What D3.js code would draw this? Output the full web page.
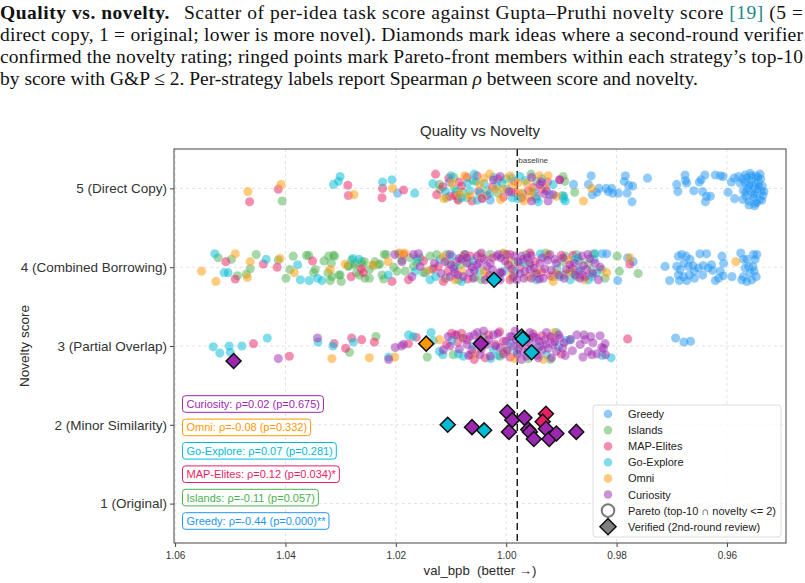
<!DOCTYPE html>
<head>
  <meta charset="utf-8">
  <script src="https://d3js.org/d3.v7.min.js"></script>
  <style>
    body { margin:0; background:#fff; }
    svg text { font-family: "Liberation Sans", Arial, sans-serif; }
    .cap { font-family: "Liberation Serif", "Times New Roman", serif !important; font-size:19.5px; fill:#111; }
  </style>
</head>
<body>
<script>
// ---- data (val_bpb, novelty incl. vertical jitter) ----
var strategies = ["Greedy", "Islands", "MAP-Elites", "Go-Explore", "Omni", "Curiosity"];
var colors = ["#2196f3", "#4caf50", "#e91e63", "#00bcd4", "#ff9800", "#9c27b0"];

var greedyPts = [
  [1.0197,4.94],[1.0103,5.08],[1.0029,4.85],[0.9878,5.05],[0.9846,5.16],[0.9851,5.05],[0.9844,4.92],[0.9832,5.00],
  [0.9836,4.95],[0.9819,5.00],[0.9815,4.96],[0.9809,5.00],[0.9807,4.94],[0.9797,4.94],[0.9784,5.16],[0.9786,5.09],
  [0.9778,5.04],[0.9771,5.03],[0.9781,4.94],[0.9772,4.83],[0.9744,5.13],[0.9691,5.05],[0.9689,4.96],[0.9676,5.17],
  [0.9675,5.10],[0.9673,5.07],[0.9660,4.97],[0.9650,5.08],[0.9647,5.11],[0.9640,5.17],[0.9644,4.96],[0.9637,4.90],
  [0.9639,4.83],[0.9630,4.90],[0.9621,5.17],[0.9612,5.16],[0.9607,5.15],[0.9598,4.95],[0.9592,5.08],[0.9587,5.13],
  [0.9586,4.87],[0.9579,5.15],[0.9576,5.07],
  [0.9572,5.12],[0.9567,5.17],[0.9562,5.05],[0.9558,5.19],[0.9554,5.13],[0.9551,5.02],[0.9547,5.16],[0.9543,5.08],
  [0.9540,5.18],[0.9536,5.03],[0.9570,4.97],[0.9565,4.90],[0.9560,4.84],[0.9556,4.95],[0.9552,4.88],[0.9549,4.81],
  [0.9545,4.93],[0.9541,4.86],[0.9538,4.97],[0.9535,4.91],[0.9568,5.08],[0.9563,5.00],[0.9557,5.10],[0.9553,4.99],
  [0.9548,5.06],[0.9544,4.99],[0.9539,5.12],[0.9537,4.85],[0.9560,4.79],[0.9550,4.78],[0.9571,4.86],[0.9546,4.82],
  [0.9542,5.03],[0.9555,5.16],[0.9564,5.14],[0.9533,4.96],[0.9566,4.95],[0.9559,5.04],[0.9551,4.92],[0.9544,5.14],
  [0.9841,4.10],[0.9826,4.17],[0.9818,4.17],[0.9798,3.83],[0.9770,4.07],[0.9780,4.12],[0.9712,4.01],[0.9704,3.83],
  [0.9688,4.14],[0.9682,4.16],[0.9674,4.14],[0.9667,4.10],[0.9691,4.01],[0.9685,3.97],[0.9678,4.05],[0.9670,4.01],
  [0.9662,4.02],[0.9688,3.90],[0.9679,3.88],[0.9668,3.90],[0.9659,3.95],[0.9686,3.83],[0.9673,3.83],[0.9659,3.86],
  [0.9649,4.17],[0.9637,4.17],[0.9652,3.99],[0.9643,4.02],[0.9644,3.90],[0.9634,3.99],[0.9628,4.03],[0.9626,3.96],
  [0.9609,4.14],[0.9606,4.05],[0.9612,3.95],[0.9615,3.86],[0.9621,3.83],[0.9607,3.89],[0.9591,3.88],
  [0.9575,4.18],[0.9570,4.10],[0.9564,4.10],[0.9567,3.99],[0.9561,4.01],[0.9558,3.93],[0.9570,3.88],[0.9573,3.84],
  [0.9552,4.16],[0.9546,4.16],[0.9549,4.10],[0.9553,4.01],[0.9551,3.95],[0.9547,3.88],[0.9555,3.84],[0.9564,3.82],
  [0.9693,3.10],[0.9678,3.05],[0.9666,3.06]
];

var islandsPts = [
  [1.0406,4.84],[1.0121,5.05],[1.0120,4.99],[0.9894,5.09],[0.9876,4.95],[1.0090,4.96],[1.0088,4.87],[1.0071,4.88],
  [1.0079,4.95],[0.9897,5.15],[0.9898,4.91],[1.0060,5.10],[1.0035,4.97],[1.0000,5.12],[0.9970,4.93],[0.9945,5.09],
  [1.0095,5.14],[1.0108,4.88],[1.0015,4.94],[0.9955,5.18],
  [1.0522,4.12],[1.0498,4.10],[1.0487,3.89],[1.0471,3.91],[1.0464,3.98],[1.0453,4.16],[1.0413,4.09],[1.0399,3.86],
  [1.0392,3.97],[1.0386,4.14],[1.0362,4.15],[1.0358,4.15],[1.0349,3.93],[1.0346,3.97],[1.0330,4.08],[1.0323,3.93],
  [1.0319,3.83],[1.0317,4.05],[1.0322,4.14],[1.0311,4.14],[1.0303,3.90],[1.0299,3.82],[1.0286,4.02],[1.0280,4.09],
  [1.0274,4.05],[1.0261,4.03],[1.0257,4.07],[1.0248,3.86],[1.0241,4.02],[1.0266,3.90],[1.0232,4.03],
  [1.0313,4.15],[1.0316,3.88],[1.0301,3.90],[1.0286,4.01],[1.0276,4.03],[1.0271,3.93],[1.0262,4.07],[1.0256,3.86],
  [1.0248,3.97],[1.0238,4.07],[1.0229,4.04],[1.0221,4.16],[1.0218,4.16],[1.0225,3.90],[1.0222,3.85],[1.0204,4.00],
  [1.0198,3.95],[1.0195,4.17],[1.0189,4.09],[1.0183,3.95],[1.0174,4.12],[1.0168,4.01],[1.0162,4.06],[1.0156,4.12],
  [1.0150,3.93],[1.0138,4.14],[1.0126,4.16],[1.0108,4.16],[1.0105,4.05],
  [1.0068,4.05],[1.0029,4.16],[1.0005,4.17],[0.9963,4.16],[0.9928,4.18],[0.9899,4.07],[0.9893,4.14],[0.9873,4.16],
  [0.9842,4.17],[0.9884,3.95],[0.9872,3.88],[0.9845,3.95],[0.9851,4.05],[0.9795,3.95],[0.9761,3.92],[0.9799,4.14],
  [0.9878,3.93],[0.9821,3.86],[0.9827,3.97],[1.0084,4.03],[1.0057,3.87],[0.9984,4.07],[0.9948,3.90],[1.0087,3.84],
  [1.0135,3.97],[1.0110,3.86],[1.0075,4.16],[1.0045,3.84],[0.9988,3.86],[0.9958,4.03],[0.9915,3.88],[0.9868,4.08],
  [1.0284,2.92],[1.0236,3.12],[1.0143,2.86],[1.0096,2.89],[1.0011,2.87],[0.9920,2.83],[0.9999,2.93],[1.0042,3.12],
  [0.9960,2.84]
];

var mapElitesPts = [
  [1.0465,4.83],[1.0413,4.99],[1.0287,5.04],[1.0286,4.91],[1.0224,5.00],[1.0225,4.88],[1.0186,4.98],[1.0128,5.18],
  [1.0126,4.92],[1.0104,5.13],[1.0102,4.90],[1.0085,5.08],[1.0087,4.85],[1.0093,4.91],[1.0053,5.16],[1.0035,4.91],
  [1.0005,4.89],[0.9990,4.95],[0.9972,4.88],[1.0081,5.03],[1.0071,5.14],[0.9951,5.01],[0.9936,4.99],[0.9984,4.95],
  [0.9925,5.08],[0.9903,5.11],[1.0015,5.12],[0.9960,4.97],[1.0050,4.96],[0.9985,5.09],[1.0115,5.02],[1.0062,4.84],
  [1.0025,5.02],[0.9945,4.90],
  [1.0508,4.07],[1.0491,3.85],[1.0440,4.04],[1.0415,4.00],[1.0351,4.08],[1.0281,3.88],[1.0263,3.98],[1.0259,3.93],
  [1.0207,3.82],[1.0186,4.16],[1.0177,3.84],[1.0132,3.98],[1.0123,4.01],[1.0114,3.82],[1.0065,4.14],[1.0044,4.12],
  [1.0011,3.93],[0.9993,4.16],[0.9957,4.18],[0.9948,4.07],[0.9920,3.89],[0.9776,4.04],[0.9879,4.15],[1.0090,4.07],
  [0.9993,3.84],[0.9881,3.99],[1.0150,4.08],[1.0105,3.95],[1.0070,3.85],[1.0025,4.12],[0.9975,4.00],[0.9935,3.94],
  [0.9900,4.15],[0.9862,3.90],
  [1.0458,3.03],[1.0393,2.87],[1.0312,3.03],[1.0291,2.97],[1.0280,3.10],[1.0262,3.08],[1.0239,3.05],[1.0177,3.03],
  [1.0163,3.11],[1.0099,3.16],[1.0093,3.14],[1.0081,3.16],[1.0071,3.08],[1.0064,2.89],[1.0032,3.14],[1.0020,3.02],
  [1.0005,3.06],[0.9993,2.86],[1.0058,2.83],[1.0038,2.85],[0.9951,3.15],[0.9918,3.10],[1.0108,3.02],[0.9780,3.09],
  [1.0088,3.05],[1.0047,3.07],[1.0012,3.18],[0.9978,2.97],[0.9935,3.13],[0.9900,2.90]
];

var goExplorePts = [
  [1.0313,5.05],[1.0304,5.09],[1.0301,5.15],[1.0224,5.08],[1.0207,5.11],[1.0166,4.94],[1.0133,5.06],[1.0058,5.18],
  [1.0055,5.09],[1.0066,4.97],[1.0048,4.95],[1.0023,5.14],[1.0017,5.03],[1.0008,5.07],[0.9999,4.99],[0.9989,4.88],
  [0.9979,4.87],[1.0081,4.88],[1.0093,4.99],[1.0053,4.85],[0.9945,4.87],[0.9921,4.92],[0.9896,4.87],[0.9915,5.05],
  [0.9896,4.90],[0.9893,4.84],[0.9942,4.83],[1.0030,4.93],[0.9990,5.13],[0.9965,5.10],[1.0070,5.07],[1.0110,4.96],
  [0.9950,4.95],[1.0100,5.16],[1.0040,5.06],[0.9975,5.15],[0.9935,5.12],
  [1.0528,4.17],[1.0511,3.93],[1.0504,3.93],[1.0435,4.10],[1.0378,4.03],[1.0373,3.84],[1.0357,3.83],[1.0342,3.86],
  [1.0334,3.83],[1.0278,4.11],[1.0267,4.10],[1.0214,3.90],[1.0165,3.95],[1.0147,3.93],[1.0138,3.84],[1.0161,4.10],
  [1.0120,4.10],[1.0081,3.82],[1.0093,4.01],[1.0005,3.95],[1.0078,4.12],[1.0048,3.95],[0.9984,3.95],[0.9945,3.84],
  [0.9903,3.88],[0.9884,3.84],[0.9851,3.84],[0.9836,3.93],[0.9876,4.10],[0.9927,4.14],[0.9839,4.17],[0.9866,3.97],
  [0.9896,3.90],[1.0128,3.88],[1.0098,4.14],[1.0060,4.08],[1.0015,3.88],[0.9970,4.06],[0.9938,4.17],[0.9908,3.98],
  [0.9870,4.12],[0.9845,3.88],
  [1.0531,2.99],[1.0519,2.91],[1.0502,3.00],[1.0500,2.92],[1.0479,3.00],[1.0433,3.10],[1.0341,3.05],[1.0314,3.00],
  [1.0277,3.05],[1.0177,3.14],[1.0169,3.12],[1.0213,2.86],[1.0136,3.17],[1.0132,3.07],[1.0121,2.93],[1.0115,2.89],
  [1.0087,2.90],[1.0078,2.87],[1.0023,2.95],[1.0014,2.88],[0.9981,2.93],[0.9891,3.07],[0.9927,2.89],[0.9909,3.17],
  [0.9884,3.08],[0.9826,2.88],[0.9810,2.85],[1.0098,3.07],[1.0060,3.00],[1.0028,2.84],[0.9992,3.03],[0.9942,2.98],
  [0.9905,2.99]
];

var omniPts = [
  [1.0468,4.96],[1.0408,5.05],[1.0276,4.92],[1.0206,5.00],[1.0113,4.87],[1.0075,5.16],[1.0044,4.88],[1.0020,4.99],
  [0.9993,5.16],[0.9990,5.03],[1.0005,4.99],[0.9963,5.07],[0.9954,4.97],[0.9957,4.89],[0.9979,5.07],[1.0048,5.05],
  [1.0066,4.91],[0.9924,5.16],[0.9930,5.01],[0.9909,4.90],[0.9860,4.84],[0.9845,5.00],[1.0040,5.13],[1.0010,4.86],
  [0.9975,4.94],[1.0085,4.93],[1.0098,5.06],[1.0030,5.18],[0.9968,4.84],[0.9940,5.16],
  [1.0552,3.95],[1.0526,3.82],[1.0491,4.17],[1.0464,4.07],[1.0469,3.87],[1.0410,4.11],[1.0384,3.93],[1.0319,3.97],
  [1.0292,4.04],[1.0241,4.03],[1.0214,4.07],[1.0193,4.18],[1.0184,4.18],[1.0144,3.95],[1.0093,3.84],[1.0078,4.14],
  [1.0048,4.16],[1.0035,3.90],[1.0005,4.18],[0.9990,3.90],[0.9993,4.01],[0.9943,3.95],[0.9915,3.82],[0.9910,3.93],
  [0.9818,3.93],[0.9776,4.12],[0.9584,4.07],[0.9891,3.92],[1.0115,4.13],[1.0080,3.95],[1.0040,3.95],[0.9998,4.10],
  [0.9960,3.88],[0.9925,4.16],[0.9888,4.09],[0.9858,3.84],
  [1.0316,2.84],[1.0248,2.85],[1.0202,2.86],[1.0121,3.08],[1.0005,2.93],[0.9912,3.17],[0.9933,2.83],[1.0057,2.90],
  [1.0082,3.11],[0.9985,2.84]
];

var curiosityPts = [
  [1.0044,4.87],[1.0023,5.11],[1.0011,5.15],[0.9954,5.14],[0.9939,5.05],[0.9927,4.97],[0.9954,4.84],[0.9924,4.84],
  [0.9903,5.11],[0.9936,5.08],[0.9930,4.93],[0.9995,4.96],[0.9915,4.92],
  [1.0202,4.16],[1.0189,4.07],[1.0159,4.17],[1.0111,4.07],[1.0102,4.16],[1.0093,3.93],[1.0071,4.05],[1.0075,4.16],
  [1.0066,3.93],[1.0060,3.86],[1.0053,4.03],[1.0035,4.01],[1.0014,4.16],[1.0011,3.84],[0.9996,4.03],[0.9987,3.88],
  [0.9969,4.10],[0.9957,3.97],[1.0081,4.10],[1.0053,4.14],[1.0102,3.88],[1.0168,4.16],[1.0156,4.01],[1.0171,3.88],
  [1.0050,4.05],[1.0029,4.05],[1.0017,4.14],[1.0011,3.93],[0.9999,4.16],[0.9972,4.14],[0.9957,4.05],[0.9966,3.95],
  [0.9939,4.05],[0.9921,4.16],[0.9909,4.05],[0.9933,3.86],[0.9891,3.97],[0.9876,4.05],[0.9863,4.14],[0.9854,3.97],
  [0.9857,3.88],[0.9839,4.05],[0.9833,3.84],[0.9954,3.86],[0.9981,3.84],[1.0038,3.84],[1.0078,3.88],[0.9866,3.86],
  [1.0040,4.10],[1.0025,3.97],[1.0002,4.08],[0.9990,3.98],[0.9975,3.92],[0.9962,4.12],[0.9950,3.99],[0.9935,4.12],
  [0.9918,3.96],[0.9897,4.12],[0.9885,4.03],[0.9868,3.95],[0.9848,4.11],[0.9860,4.02],[1.0062,4.00],[1.0085,4.11],
  [1.0095,3.98],[1.0030,3.90],[1.0008,3.93],[0.9978,4.07],[0.9945,3.92],[0.9925,4.09],[0.9905,3.90],
  [1.0130,4.05],[1.0118,3.92],[1.0100,4.03],[1.0088,3.90],[1.0072,4.12],[1.0058,3.96],[1.0045,4.18],[1.0020,3.86],
  [1.0010,4.12],[0.9985,4.14],[0.9968,3.86],[0.9955,4.15],[0.9940,3.85],[0.9930,3.98],[0.9912,4.10],[0.9895,3.86],
  [0.9875,3.90],[0.9852,4.16],[0.9843,3.92],[0.9830,4.00],
  [1.0413,2.84],[1.0342,3.10],[1.0201,2.98],[1.0190,3.00],[1.0186,3.02],[1.0213,2.83],[1.0090,3.14],[1.0071,3.02],
  [1.0058,3.14],[1.0062,2.95],[1.0035,3.02],[1.0041,3.19],[1.0023,3.14],[1.0011,2.98],[1.0029,2.87],[1.0048,2.89],
  [0.9993,3.12],[0.9987,3.00],[0.9957,3.17],[0.9945,3.10],[0.9939,3.00],[0.9930,3.08],[0.9924,2.97],[0.9915,3.02],
  [0.9909,2.93],[0.9948,2.93],[0.9942,2.85],[0.9963,2.87],[0.9954,3.02],[0.9927,3.17],[0.9918,2.85],[0.9975,3.02],
  [0.9969,2.93],[1.0102,3.00],[1.0114,2.95],[1.0078,3.10],[1.0050,3.06],[0.9984,3.19],[0.9972,2.83],[0.9903,3.10],
  [0.9893,2.88],[0.9884,3.08],[0.9872,3.14],[0.9859,3.14],[0.9857,3.08],[0.9847,3.12],[0.9843,3.04],[0.9830,3.13],
  [0.9827,2.98],[0.9851,2.93],[0.9861,2.86],[0.9845,2.89],[0.9836,2.90],[0.9824,2.97],[0.9821,3.03],[0.9820,2.89],
  [1.0000,3.06],[0.9990,3.12],[0.9965,3.05],[0.9950,3.12],[0.9935,2.95],[0.9912,3.05],[0.9898,2.97],[1.0019,3.00],
  [1.0005,2.90],[0.9980,2.90],[1.0066,3.12],[1.0045,2.96],[0.9960,2.96],[0.9940,3.06],[0.9920,3.12],
  [1.0105,3.12],[1.0085,2.96],[1.0068,2.88],[1.0052,3.17],[1.0032,3.08],[1.0015,3.16],[0.9998,2.95],[0.9982,3.08],
  [0.9958,3.10],[0.9944,2.88],[0.9928,3.02],[0.9905,3.14],[0.9895,3.04],[0.9880,2.94],[0.9866,3.02]
];

// verified (2nd-round review): val_bpb, novelty, strategy index
var verifiedPts = [
  [1.0022,3.84,3],[1.0145,3.03,4],[1.0046,3.03,5],[0.9972,3.12,3],[0.9970,3.09,3],[0.9954,2.92,3],[1.0494,2.81,5],
  [1.0106,2.00,3],[1.0062,1.97,5],[1.0040,1.93,3],[0.9998,2.16,5],[0.9989,2.06,5],[0.9967,2.09,5],[0.9995,1.91,5],
  [0.9960,1.94,5],[0.9957,1.91,5],[0.9950,1.82,5],[0.9928,2.14,2],[0.9934,2.04,2],[0.9928,1.95,5],[0.9922,1.82,5],
  [0.9909,1.89,5],[0.9873,1.91,5]
];

// Spearman labels (top to bottom)
var rhoNames = ["Curiosity", "Omni", "Go-Explore", "MAP-Elites", "Islands", "Greedy"];
var rhoVals = [0.02, -0.08, 0.07, 0.12, -0.11, -0.44];
var rhoP = [0.675, 0.332, 0.281, 0.034, 0.057, 0.000];

var noveltyTicks = [1, 2, 3, 4, 5];
var noveltyLabels = ["1 (Original)", "2 (Minor Similarity)", "3 (Partial Overlap)", "4 (Combined Borrowing)", "5 (Direct Copy)"];
var bpbTicks = [1.06, 1.04, 1.02, 1.00, 0.98, 0.96];
var baselineBpb = 0.998;

// ---- layout ----
var width = 805, height = 583;
var pLeft = 174, pRight = 786, pTop = 149, pBottom = 543;

var svg = d3.select("body").append("svg")
  .attr("width", width)
  .attr("height", height);

// caption
var cap = svg.append("g");
var l1 = cap.append("text").attr("class", "cap").attr("x", 0).attr("y", 19)
  .attr("textLength", 803).attr("lengthAdjust", "spacing");
l1.append("tspan").attr("font-weight", "bold").text("Quality vs. novelty.");
l1.append("tspan").attr("dx", 14).text("Scatter of per-idea task score against Gupta\u2013Pruthi novelty score ");
l1.append("tspan").attr("fill", "#1a8a8a").text("[19]");
l1.append("tspan").text(" (5 =");
cap.append("text").attr("class", "cap").attr("x", 0).attr("y", 41)
  .attr("textLength", 803).attr("lengthAdjust", "spacing")
  .text("direct copy, 1 = original; lower is more novel). Diamonds mark ideas where a second-round verifier");
cap.append("text").attr("class", "cap").attr("x", 0).attr("y", 63)
  .attr("textLength", 803).attr("lengthAdjust", "spacing")
  .text("confirmed the novelty rating; ringed points mark Pareto-front members within each strategy\u2019s top-10");
var l4 = cap.append("text").attr("class", "cap").attr("x", 0).attr("y", 85);
l4.append("tspan").text("by score with G&P \u2264 2. Per-strategy labels report Spearman ");
l4.append("tspan").attr("font-style", "italic").text("\u03c1");
l4.append("tspan").text(" between score and novelty.");

var x = d3.scaleLinear().domain([1.0602, 0.9493]).range([pLeft, pRight]);
var y = d3.scaleLinear().domain([0.5, 5.5]).range([pBottom, pTop]);

// grid
svg.append("g").selectAll("line").data(bpbTicks).enter().append("line")
  .attr("x1", function(d) { return x(d); }).attr("x2", function(d) { return x(d); })
  .attr("y1", pTop).attr("y2", pBottom)
  .attr("stroke", "#d9d9d9").attr("stroke-width", 0.8).attr("stroke-dasharray", "3,3");
svg.append("g").selectAll("line").data(noveltyTicks).enter().append("line")
  .attr("y1", function(d) { return y(d); }).attr("y2", function(d) { return y(d); })
  .attr("x1", pLeft).attr("x2", pRight)
  .attr("stroke", "#d9d9d9").attr("stroke-width", 0.8).attr("stroke-dasharray", "3,3");

// axes
var xAxis = svg.append("g").attr("transform", "translate(0," + pBottom + ")")
  .call(d3.axisBottom(x).tickValues(bpbTicks).tickFormat(d3.format(".2f")).tickSize(4));
var yAxis = svg.append("g").attr("transform", "translate(" + pLeft + ",0)")
  .call(d3.axisLeft(y).tickValues(noveltyTicks).tickFormat(function(d, i) { return noveltyLabels[i]; }).tickSize(4));
xAxis.select(".domain").remove();
yAxis.select(".domain").remove();
xAxis.selectAll("text").attr("font-size", 10).attr("fill", "#333").attr("dy", "0.9em");
yAxis.selectAll("text").attr("font-size", 13.5).attr("fill", "#333");
xAxis.selectAll("line").attr("stroke", "#444");
yAxis.selectAll("line").attr("stroke", "#444");

// baseline
svg.append("line")
  .attr("x1", x(baselineBpb)).attr("x2", x(baselineBpb))
  .attr("y1", pTop).attr("y2", pBottom)
  .attr("stroke", "#111").attr("stroke-width", 1.4).attr("stroke-dasharray", "7,4");
svg.append("text").attr("x", x(baselineBpb) + 1).attr("y", pTop + 14)
  .attr("font-size", 8).attr("fill", "#444").text("baseline");

// scatter
var pointSets = [greedyPts, islandsPts, mapElitesPts, goExplorePts, omniPts, curiosityPts];
pointSets.forEach(function(pts, i) {
  svg.append("g").selectAll("circle").data(pts).enter().append("circle")
    .attr("cx", function(d) { return x(d[0]); })
    .attr("cy", function(d) { return y(d[1]); })
    .attr("r", 4.6)
    .attr("fill", colors[i])
    .attr("fill-opacity", 0.5)
    .attr("stroke", "#fff").attr("stroke-width", 0.3).attr("stroke-opacity", 0.5);
});

// verified diamonds
var diamond = d3.symbol().type(d3.symbolSquare).size(112);
svg.append("g").selectAll("path").data(verifiedPts).enter().append("path")
  .attr("d", diamond)
  .attr("transform", function(d) { return "translate(" + x(d[0]) + "," + y(d[1]) + ") rotate(45)"; })
  .attr("fill", function(d) { return colors[d[2]]; })
  .attr("stroke", "#111").attr("stroke-width", 1.5);

// frame
svg.append("rect").attr("x", pLeft).attr("y", pTop)
  .attr("width", pRight - pLeft).attr("height", pBottom - pTop)
  .attr("fill", "none").attr("stroke", "#555").attr("stroke-width", 1.1);

// titles
svg.append("text").attr("x", (pLeft + pRight) / 2).attr("y", 136)
  .attr("text-anchor", "middle").attr("font-size", 15).attr("fill", "#2b2b2b")
  .text("Quality vs Novelty");
svg.append("text").attr("x", (pLeft + pRight) / 2).attr("y", 575)
  .attr("text-anchor", "middle").attr("font-size", 13.2).attr("fill", "#2b2b2b")
  .attr("xml:space", "preserve")
  .text("val_bpb  (better \u2192)");
svg.append("text").attr("transform", "translate(29," + ((pTop + pBottom) / 2) + ") rotate(-90)")
  .attr("text-anchor", "middle").attr("font-size", 13.5).attr("fill", "#2b2b2b")
  .text("Novelty score");

// spearman label boxes
var rhoG = svg.append("g");
rhoNames.forEach(function(name, i) {
  var c = colors[strategies.indexOf(name)];
  var p = rhoP[i];
  var star = p < 0.01 ? "**" : (p < 0.05 ? "*" : "");
  var cy = 404 + i * 23.4;
  var g = rhoG.append("g");
  var r = g.append("rect");
  var t = g.append("text").attr("x", 186.5).attr("y", cy + 4)
    .attr("font-size", 11).attr("fill", c)
    .text(name + ": \u03c1=" + rhoVals[i].toFixed(2) + " (p=" + p.toFixed(3) + ")" + star);
  var w = t.node().getComputedTextLength();
  r.attr("x", 182.5).attr("y", cy - 8.3).attr("width", w + 7.5).attr("height", 16.6)
    .attr("rx", 3).attr("fill", "#fff").attr("fill-opacity", 0.85)
    .attr("stroke", c).attr("stroke-width", 1);
});

// legend
var lg = svg.append("g");
lg.append("rect").attr("x", 593).attr("y", 405).attr("width", 188).attr("height", 132)
  .attr("rx", 3).attr("fill", "#fff").attr("fill-opacity", 0.8)
  .attr("stroke", "#dcdcdc").attr("stroke-width", 1);
strategies.forEach(function(name, i) {
  var cy = 414 + i * 16.1;
  lg.append("circle").attr("cx", 608).attr("cy", cy).attr("r", 4.3)
    .attr("fill", colors[i]).attr("fill-opacity", 0.5);
  lg.append("text").attr("x", 628).attr("y", cy + 4).attr("font-size", 11).attr("fill", "#222").text(name);
});
var py = 414 + 6 * 16.1;
lg.append("circle").attr("cx", 608).attr("cy", py).attr("r", 6.3)
  .attr("fill", "none").attr("stroke", "#777").attr("stroke-width", 2);
lg.append("text").attr("x", 628).attr("y", py + 4).attr("font-size", 11).attr("fill", "#222")
  .text("Pareto (top-10 \u2229 novelty <= 2)");
var vy = 414 + 7 * 16.1;
lg.append("path").attr("d", d3.symbol().type(d3.symbolSquare).size(130))
  .attr("transform", "translate(608," + vy + ") rotate(45)")
  .attr("fill", "#808080").attr("stroke", "#111").attr("stroke-width", 1.5);
lg.append("text").attr("x", 628).attr("y", vy + 4).attr("font-size", 11).attr("fill", "#222")
  .text("Verified (2nd-round review)");
</script>
</body>
